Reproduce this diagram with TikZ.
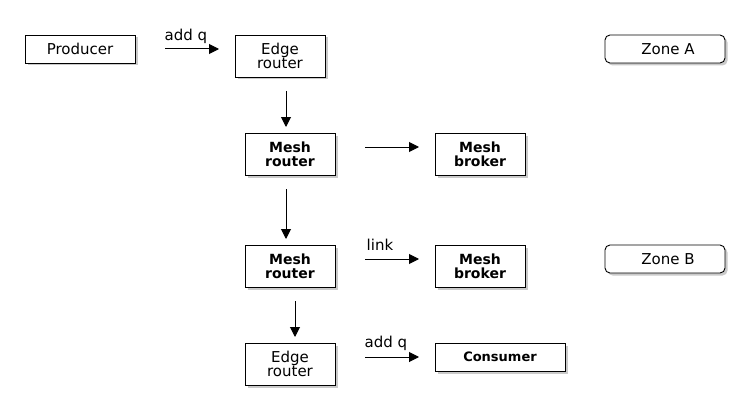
\documentclass[tikz,border=0pt]{standalone}
\usepackage{fontspec}
\setmainfont{DejaVu Sans}
\usetikzlibrary{arrows.meta,shadows}
\tikzset{
  box/.style={draw=black, line width=0.9pt, fill=white, rectangle, align=center, inner sep=0pt,
    drop shadow={shadow xshift=2.5pt, shadow yshift=-2.5pt, opacity=0.35, fill=black!60}},
  regtext/.style={font=\fontsize{15}{14.5}\selectfont},
  boldtext/.style={font=\fontsize{14}{14}\selectfont\bfseries},
  zone/.style={box, rounded corners=5pt},
  arr/.style={-{Triangle[length=10pt,width=10pt]}, line width=1pt},
  lbl/.style={font=\fontsize{15}{15}\selectfont, inner sep=0pt}
}
\begin{document}
\begin{tikzpicture}[x=1pt,y=-1pt]
\useasboundingbox (0,0) rectangle (750,420);
\node[box, regtext, minimum width=110pt, minimum height=28pt] (prod) at (80,49) {Producer};
\node[box, regtext, minimum width=90pt, minimum height=42pt] (edge1) at (280,56) {Edge\\router};
\node[box, boldtext, minimum width=90pt, minimum height=42pt] (mesh1) at (290,154) {Mesh\\router};
\node[box, boldtext, minimum width=90pt, minimum height=42pt] (brok1) at (480,154) {Mesh\\broker};
\node[box, boldtext, minimum width=90pt, minimum height=42pt] (mesh2) at (290,266) {Mesh\\router};
\node[box, boldtext, minimum width=90pt, minimum height=42pt] (brok2) at (480,266) {Mesh\\broker};
\node[box, regtext, minimum width=90pt, minimum height=42pt] (edge2) at (290,364) {Edge\\router};
\node[box, font=\fontsize{13}{14}\selectfont\bfseries, minimum width=130pt, minimum height=28pt] (cons) at (500,357) {Consumer};
\node[zone, regtext, minimum width=120pt, minimum height=28pt] (zoneA) at (665,49) {\hspace{6pt}Zone A};
\node[zone, regtext, minimum width=120pt, minimum height=28pt] (zoneB) at (665,259) {\hspace{6pt}Zone B};

\coordinate (a1s) at (165,49);  \coordinate (a1e) at (219,49);
\coordinate (a2s) at (286,91);  \coordinate (a2e) at (286,127);
\coordinate (a3s) at (365,147); \coordinate (a3e) at (419,147);
\coordinate (a4s) at (286,189); \coordinate (a4e) at (286,239);
\coordinate (a5s) at (365,259); \coordinate (a5e) at (419,259);
\coordinate (a6s) at (295,301); \coordinate (a6e) at (295,337);
\coordinate (a7s) at (365,357); \coordinate (a7e) at (419,357);

\draw[arr] (a1s) -- (a1e);
\draw[arr] (a2s) -- (a2e);
\draw[arr] (a3s) -- (a3e);
\draw[arr] (a4s) -- (a4e);
\draw[arr] (a5s) -- (a5e);
\draw[arr] (a6s) -- (a6e);
\draw[arr] (a7s) -- (a7e);

\node[lbl] (l1) at (186,36) {add q};
\node[lbl] (l2) at (380,245) {link};
\node[lbl] (l3) at (386,343) {add q};
\end{tikzpicture}
\end{document}
